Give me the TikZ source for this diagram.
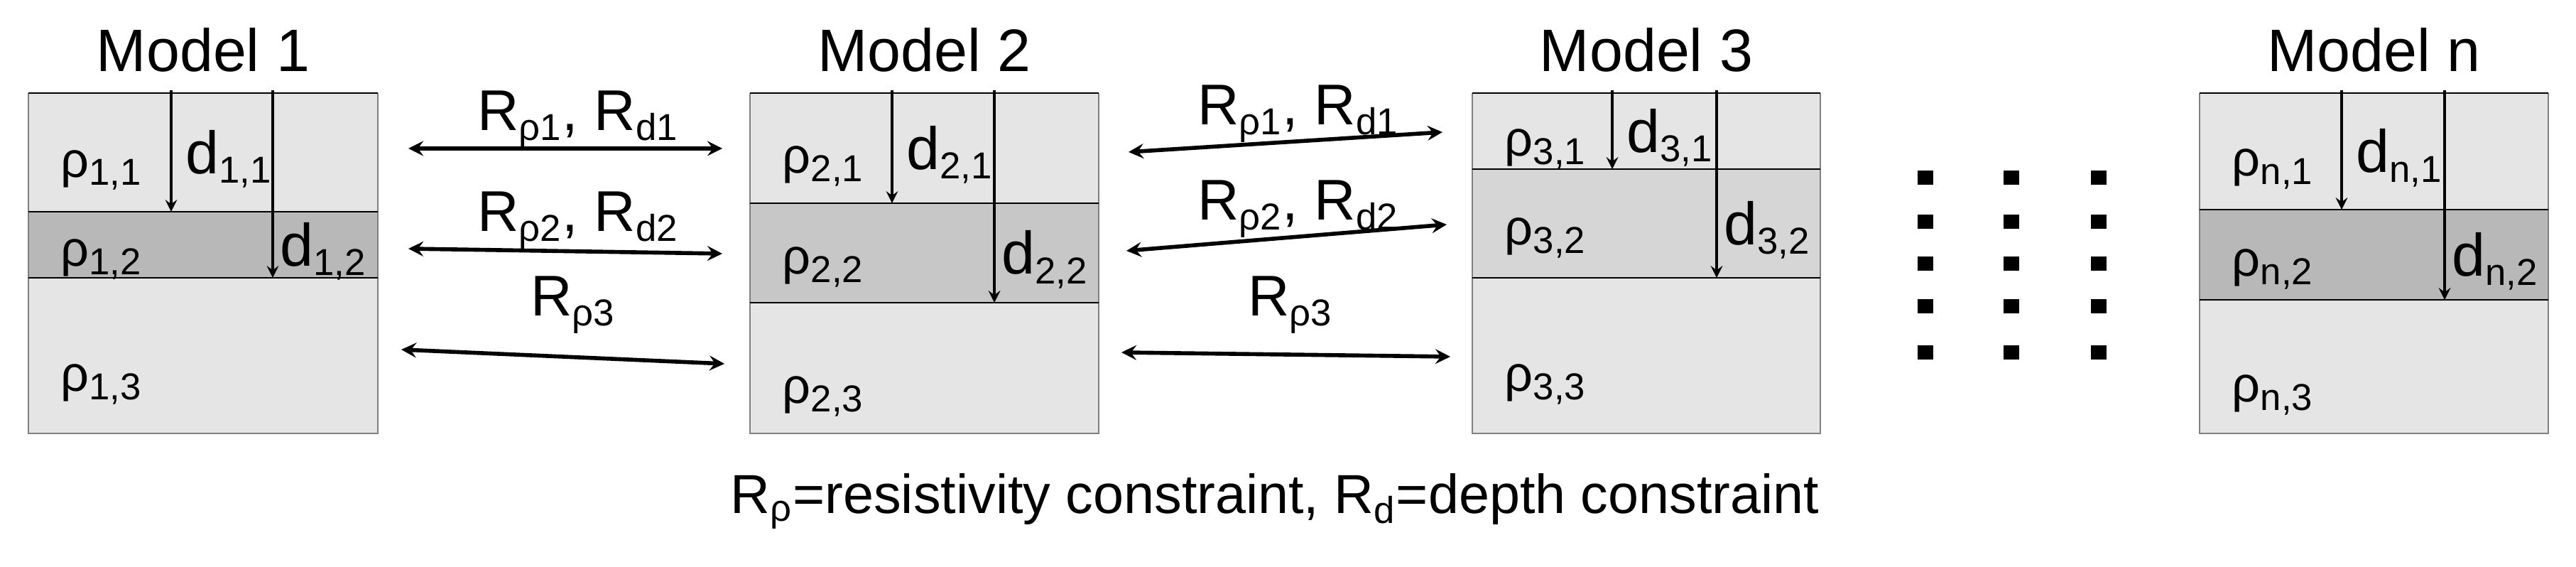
\documentclass[tikz,border=0pt]{standalone}
\usepackage{fontspec}
\setmainfont{Liberation Sans}
\usetikzlibrary{arrows,calc,positioning}
\tikzset{
    modeltitle/.style = {font=\fontsize{24}{26}\selectfont, anchor=base},
    rholabel/.style = {font=\fontsize{20}{22}\selectfont, anchor=base west, inner sep=0pt},
    dlabel/.style = {font=\fontsize{24}{26}\selectfont, anchor=base west, inner sep=0pt},
    rlabel/.style = {font=\fontsize{23}{25}\selectfont, anchor=base},
    caption/.style = {font=\fontsize{22}{24}\selectfont, anchor=base},
    link/.style = {<->, >=stealth, line width=1.6pt},
    depth/.style = {->, >=stealth, line width=1.1pt},
    dotsq/.style = {fill=black, minimum width=0.22cm, minimum height=0.2cm, inner sep=0pt}
}
\newcommand{\lsub}[1]{\textsubscript{\fontsize{15}{15}\selectfont #1}}
\definecolor{layerlight}{gray}{0.90}
\begin{document}
\begin{tikzpicture}[]
                \useasboundingbox (0,0) rectangle (36.27,7.98);
                %% models: left, right, boundary 1, boundary 2, mid shade, d1 x, d2 x, index
                \foreach \xl/\xr/\ba/\bb/\sh/\dx/\dy/\i [count=\k] in
                    {0.40/5.32/5.00/4.07/28/2.41/3.84/1,
                     10.56/15.47/5.12/3.72/22/12.56/14.00/2,
                     20.73/25.63/5.60/4.07/16/22.70/24.17/3,
                     30.97/35.88/5.03/3.76/28/32.97/34.42/n} {
                    \fill[layerlight] (\xl,1.88) rectangle (\xr,6.67);
                    \fill[black!\sh!white] (\xl,\bb) rectangle (\xr,\ba);
                    \draw[gray, line width=0.6pt] (\xl,6.67) -- (\xl,1.88) -- (\xr,1.88) -- (\xr,6.67);
                    \draw[line width=0.6pt] (\xl,6.67) -- (\xr,6.67);
                    \draw[line width=0.6pt] (\xl,\ba) -- (\xr,\ba);
                    \draw[line width=0.6pt] (\xl,\bb) -- (\xr,\bb);

                    \node[modeltitle] (title\k) at ({(\xl+\xr)/2},6.97) {Model \i};
                    \node[rholabel] (rho\k a) at (\xl+0.45,{(6.67+\ba)/2-0.35}) {ρ\lsub{\i,1}};
                    \node[rholabel] (rho\k b) at (\xl+0.45,{(\ba+\bb)/2-0.3}) {ρ\lsub{\i,2}};
                    \node[rholabel] (rho\k c) at (\xl+0.45,{(\bb+1.88)/2-0.5}) {ρ\lsub{\i,3}};

                    \coordinate (top\k a) at (\dx,6.71);
                    \coordinate (bot\k a) at (\dx,\ba);
                    \coordinate (top\k b) at (\dy,6.71);
                    \coordinate (bot\k b) at (\dy,\bb);
                    \draw[depth] (top\k a) -- (bot\k a);
                    \draw[depth] (top\k b) -- (bot\k b);
                    \node[dlabel] (d\k a) at (\dx+0.2,{(6.67+\ba)/2-0.3}) {d\lsub{\i,1}};
                    \node[dlabel] (d\k b) at (\dy+0.1,{(\ba+\bb)/2-0.3}) {d\lsub{\i,2}};
                }

                %% constraints model 1 -- model 2
                \coordinate (p1a) at (5.75,5.89);  \coordinate (q1a) at (10.17,5.89);
                \coordinate (p1b) at (5.75,4.48);  \coordinate (q1b) at (10.17,4.41);
                \coordinate (p1c) at (5.65,3.06);  \coordinate (q1c) at (10.20,2.86);
                \draw[link] (p1a) -- (q1a);
                \draw[link] (p1b) -- (q1b);
                \draw[link] (p1c) -- (q1c);
                \node[rlabel] (r1a) at (8.14,6.14) {R\lsub{ρ1}, R\lsub{d1}};
                \node[rlabel] (r1b) at (8.14,4.72) {R\lsub{ρ2}, R\lsub{d2}};
                \node[rlabel] (r1c) at (8.07,3.53) {R\lsub{ρ3}};

                %% constraints model 2 -- model 3
                \coordinate (p2a) at (15.89,5.84); \coordinate (q2a) at (20.31,6.12);
                \coordinate (p2b) at (15.86,4.45); \coordinate (q2b) at (20.37,4.82);
                \coordinate (p2c) at (15.79,3.02); \coordinate (q2c) at (20.42,2.96);
                \draw[link] (p2a) -- (q2a);
                \draw[link] (p2b) -- (q2b);
                \draw[link] (p2c) -- (q2c);
                \node[rlabel] (r2a) at (18.28,6.22) {R\lsub{ρ1}, R\lsub{d1}};
                \node[rlabel] (r2b) at (18.28,4.88) {R\lsub{ρ2}, R\lsub{d2}};
                \node[rlabel] (r2c) at (18.17,3.53) {R\lsub{ρ3}};

                %% dots
                \foreach \cx [count=\m] in {27.11,28.32,29.55}
                    \foreach \cy [count=\n] in {5.48,4.86,4.27,3.67,3.02}
                        \node[dotsq] (dot\m\n) at (\cx,\cy) {};

                %% caption
                \node[caption] (cap) at (17.95,0.75) {R\lsub{ρ}=resistivity constraint, R\lsub{d}=depth constraint};
            \end{tikzpicture}
\end{document}
